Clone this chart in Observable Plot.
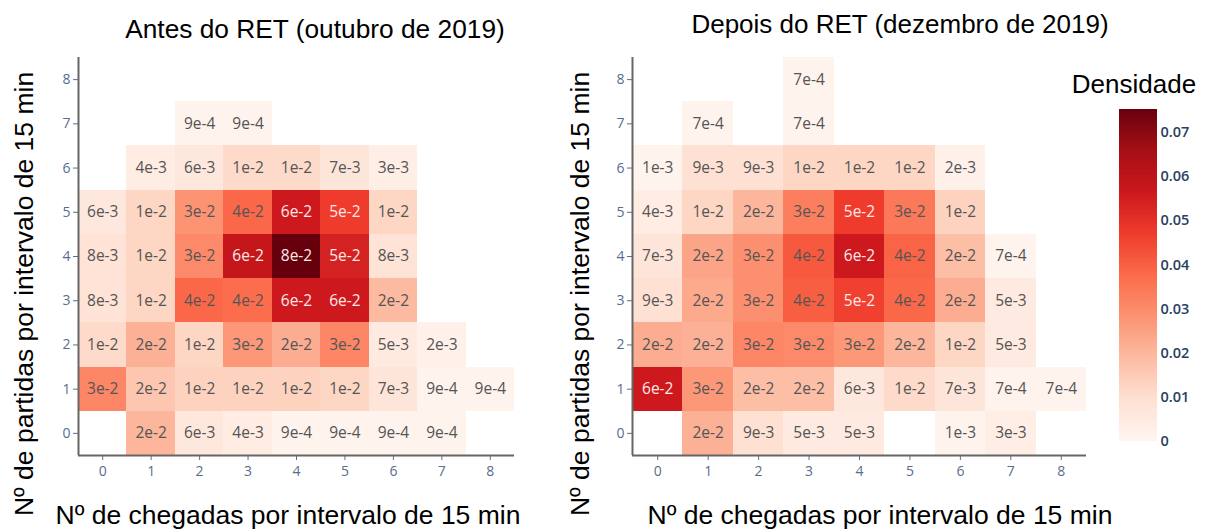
<!DOCTYPE html>
<html>
<head>
<meta charset="utf-8">
<script src="https://cdn.jsdelivr.net/npm/d3@7"></script>
<script src="https://cdn.jsdelivr.net/npm/@observablehq/plot@0.6"></script>
<style>
  body { margin: 0; background: #fff; }
  #chart { position: relative; width: 1206px; height: 529px; overflow: hidden; background: #fff; }
  #chart > svg { position: absolute; top: 0; }
  #chart svg.heat [aria-label*="axis"] { font-size: 14px; }
  #chart svg.cbar [aria-label*="axis"] { font-size: 14.5px; font-weight: 600; }
</style>
</head>
<body>
<div id="chart"></div>
<script>
// Arrivals (x) and departures (y) per 15-minute interval
const arrivals = [0, 1, 2, 3, 4, 5, 6, 7, 8];
const departures = [0, 1, 2, 3, 4, 5, 6, 7, 8];

// Density matrices: one row per departures count (0 → 8), one column per arrivals count (0 → 8).
// null = no observation in that cell.
const antes = [
  [null,  0.020, 0.006, 0.004, 0.0009, 0.0009, 0.0009, 0.0009, null],
  [0.031, 0.016, 0.013, 0.013, 0.013,  0.012,  0.007,  0.0009, 0.0009],
  [0.011, 0.021, 0.012, 0.027, 0.022,  0.031,  0.005,  0.002,  null],
  [0.008, 0.012, 0.038, 0.037, 0.056,  0.056,  0.019,  null,   null],
  [0.008, 0.012, 0.030, 0.058, 0.076,  0.054,  0.008,  null,   null],
  [0.006, 0.012, 0.028, 0.038, 0.056,  0.047,  0.012,  null,   null],
  [null,  0.004, 0.006, 0.011, 0.011,  0.007,  0.003,  null,   null],
  [null,  null,  0.0009, 0.0009, null, null,   null,   null,   null],
  [null,  null,  null,  null,  null,   null,   null,   null,   null]
];
const depois = [
  [null,  0.021, 0.009, 0.005, 0.005,  null,   0.001,  0.003,  null],
  [0.056, 0.027, 0.018, 0.018, 0.006,  0.011,  0.007,  0.0007, 0.0007],
  [0.022, 0.021, 0.031, 0.030, 0.027,  0.020,  0.012,  0.005,  null],
  [0.009, 0.023, 0.029, 0.040, 0.046,  0.038,  0.022,  0.005,  null],
  [0.007, 0.024, 0.029, 0.041, 0.056,  0.039,  0.018,  0.0007, null],
  [0.004, 0.012, 0.020, 0.033, 0.047,  0.034,  0.013,  null,   null],
  [0.001, 0.009, 0.009, 0.012, 0.012,  0.012,  0.002,  null,   null],
  [null,  0.0007, null, 0.0007, null,  null,   null,   null,   null],
  [null,  null,  null,  0.0007, null,  null,   null,   null,   null]
];

// Colour bar ticks and shared colour scale
const densityTicks = [0, 0.01, 0.02, 0.03, 0.04, 0.05, 0.06, 0.07];
const densityMax = 0.0752;
const reds = d3.schemeReds[9];
const colorScale = {
  type: "linear",
  domain: reds.map((_, i) => densityMax * i / (reds.length - 1)),
  range: reds,
  clamp: true
};

const fmt = d3.format(".0e");
const lightText = 0.044;     // cells darker than this get light labels
const half = 0.5;
const xDomain = [arrivals[0] - half, arrivals[arrivals.length - 1] + half];
const yDomain = [departures[0] - half, departures[departures.length - 1] + half];

function tidy(matrix) {
  return matrix.flatMap((row, j) =>
    row.map((v, i) => ({x: arrivals[i], y: departures[j], v}))
  ).filter(d => d.v != null);
}

function heatmap(matrix, {left, width, marginLeft, marginRight}) {
  const data = tidy(matrix);
  const svg = Plot.plot({
    width, height: 529,
    marginLeft, marginRight, marginTop: 57, marginBottom: 74,
    className: "heat",
    style: {fontFamily: "'Open Sans', sans-serif", fontSize: "14px", color: "#5a6d8c", background: "transparent", overflow: "visible"},
    x: {domain: xDomain, ticks: arrivals, tickFormat: d3.format("d"), tickSize: 5, tickPadding: 6, label: null},
    y: {domain: yDomain, ticks: departures, tickFormat: d3.format("d"), tickSize: 5, tickPadding: 3, label: null},
    color: colorScale,
    marks: [
      Plot.rect(data, {
        x1: d => d.x - half, x2: d => d.x + half,
        y1: d => d.y - half, y2: d => d.y + half,
        fill: "v", shapeRendering: "crispEdges"
      }),
      Plot.text(data, {filter: d => d.v <= lightText, x: "x", y: "y", text: d => fmt(d.v), fill: "#555", fontSize: 15.5}),
      Plot.text(data, {filter: d => d.v > lightText, x: "x", y: "y", text: d => fmt(d.v), fill: "#fde9e6", fontSize: 15.5}),
      Plot.ruleX([xDomain[0]], {stroke: "#666", strokeWidth: 2}),
      Plot.ruleY([yDomain[0]], {stroke: "#666", strokeWidth: 2})
    ]
  });
  svg.classList.add("heat");
  svg.style.left = left + "px";
  return svg;
}

const chart = document.getElementById("chart");
chart.append(heatmap(antes,  {left: 0,   width: 540, marginLeft: 78, marginRight: 26}));
chart.append(heatmap(depois, {left: 560, width: 540, marginLeft: 72, marginRight: 14}));

// Vertical colour bar
const barStep = densityMax / 200;
const barStops = d3.range(0, densityMax, barStep);
const bar = Plot.plot({
  width: 88, height: 529,
  marginLeft: 0, marginRight: 50, marginTop: 109, marginBottom: 88,
  style: {fontFamily: "'Open Sans', sans-serif", fontSize: "14.5px", fontWeight: 600, color: "#2a3f5f", background: "transparent", overflow: "visible"},
  y: {domain: [0, densityMax], ticks: densityTicks, tickFormat: d => d === 0 ? "0" : d3.format(".2f")(d), axis: "right", tickSize: 0, tickPadding: 3, label: null},
  color: colorScale,
  marks: [
    Plot.rect(barStops, {y1: d => d, y2: d => Math.min(d + barStep * 1.6, densityMax), fill: d => d, shapeRendering: "crispEdges"})
  ]
});
bar.classList.add("cbar");
bar.style.left = "1119px";
chart.append(bar);

// Titles and axis labels
const overlay = d3.select(chart).append("svg")
  .attr("width", 1206).attr("height", 529)
  .style("left", "0px")
  .style("pointer-events", "none")
  .attr("font-family", "'Liberation Sans', Arial, sans-serif")
  .attr("fill", "#000");

const labels = [
  {text: "Antes do RET (outubro de 2019)", x: 315, y: 37.5, size: 26.3},
  {text: "Depois do RET (dezembro de 2019)", x: 900, y: 32.5, size: 26},
  {text: "Nº de chegadas por intervalo de 15 min", x: 288, y: 523.5, size: 26.5},
  {text: "Nº de chegadas por intervalo de 15 min", x: 880, y: 523.5, size: 26.5},
  {text: "Densidade", x: 1134, y: 93, size: 26}
];
overlay.selectAll("text.h").data(labels).join("text")
  .attr("class", "h")
  .attr("x", d => d.x).attr("y", d => d.y)
  .attr("text-anchor", "middle")
  .attr("font-size", d => d.size)
  .text(d => d.text);

const yLabels = [
  {text: "Nº de partidas por intervalo de 15 min", x: 33, y: 294},
  {text: "Nº de partidas por intervalo de 15 min", x: 589, y: 294}
];
overlay.selectAll("text.v").data(yLabels).join("text")
  .attr("class", "v")
  .attr("transform", d => `translate(${d.x},${d.y}) rotate(-90)`)
  .attr("text-anchor", "middle")
  .attr("font-size", 26.5)
  .text(d => d.text);
</script>
</body>
</html>
